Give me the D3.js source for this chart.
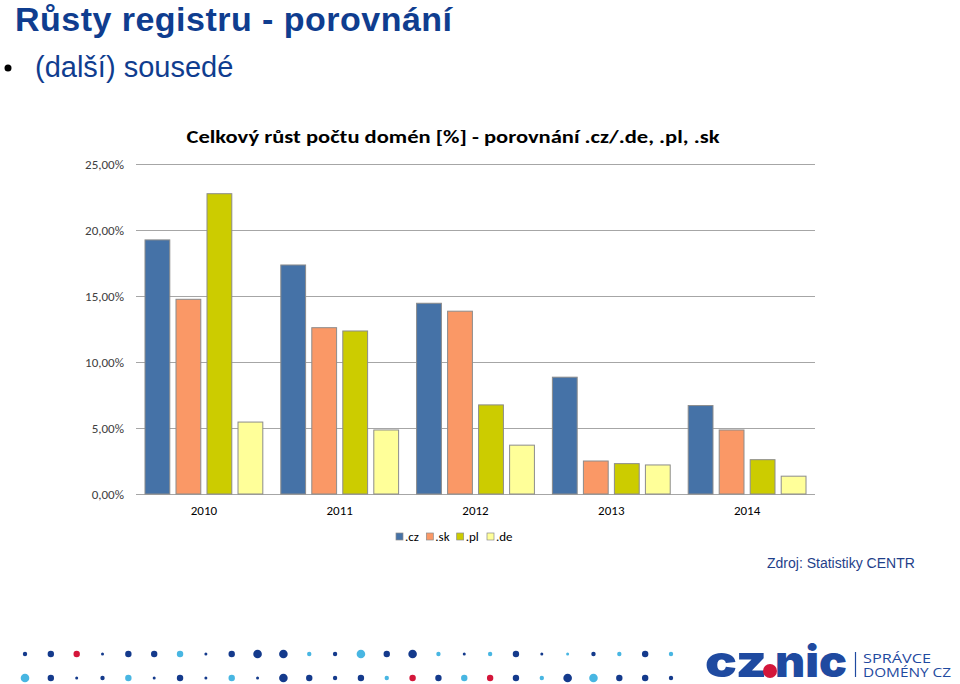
<!DOCTYPE html>
<html>
<head>
<meta charset="utf-8">
<script src="https://cdnjs.cloudflare.com/ajax/libs/d3/7.8.5/d3.min.js"></script>
<style>
    body { margin: 0; background: #fff; }
    svg { display: block; }
</style>
</head>
<body>
<svg id="slide" width="960" height="684"></svg>
<script>

// chart data (growth in %)
const years = ["2010", "2011", "2012", "2013", "2014"];
const seriesNames = [".cz", ".sk", ".pl", ".de"];
const czValues = [19.25, 17.35, 14.45, 8.85, 6.7];
const skValues = [14.75, 12.6, 13.85, 2.5, 4.85];
const plValues = [22.75, 12.35, 6.75, 2.3, 2.6];
const deValues = [5.45, 4.85, 3.7, 2.2, 1.35];
const yTicks = [0, 5, 10, 15, 20, 25];

// decorative dot rows under the slide (size+colour codes)
const dotRowTop = ["sd","md","mr","td","md","md","mc","td","md","ld","ld","sc","sd","lc","md","ld","sc","td",
                   "sc","md","td","tc","sd","sc","md","sc"];
const dotRowBottom = ["lc","md","td","sd","mc","td","md","td","mc","td","ld","md","sd","md","sc","mr","md","mc",
                      "mr","md","sc","ld","lc","md","md","sd"];

const colors = {".cz": "#4572a7", ".sk": "#fa9866", ".pl": "#cccc00", ".de": "#ffff99"};
const textBlue = "#0f3d8f";

const svg = d3.select("#slide");

// slide heading
svg.append("text")
    .attr("x", 15).attr("y", 31)
    .attr("font-family", "Liberation Sans, Arial, sans-serif")
    .attr("font-weight", "bold")
    .attr("font-size", 34)
    .attr("textLength", 437)
    .attr("fill", textBlue)
    .text("Růsty registru - porovnání");

svg.append("circle")
    .attr("cx", 8).attr("cy", 68).attr("r", 3.5)
    .attr("fill", "#000");

svg.append("text")
    .attr("x", 35).attr("y", 77)
    .attr("font-family", "Liberation Sans, Arial, sans-serif")
    .attr("font-size", 29)
    .attr("fill", textBlue)
    .text("(další) sousedé");

// chart
const plotLeft = 136, plotRight = 815, plotTop = 164, plotBottom = 494;

const x0 = d3.scaleBand().domain(years).range([plotLeft, plotRight]);
const x1 = d3.scaleBand().domain(seriesNames).range([0, x0.bandwidth()])
    .paddingInner(0.2).paddingOuter(0.29);
const y = d3.scaleLinear().domain([0, 25]).range([plotBottom, plotTop]);

const locale = d3.formatLocale({decimal: ",", thousands: " ", grouping: [3], currency: ["", " Kč"]});
const fmt = locale.format(".2f");

const chartFont = "Calibri, Carlito, Lato, sans-serif";

svg.append("text")
    .attr("x", 453).attr("y", 143)
    .attr("text-anchor", "middle")
    .attr("font-family", chartFont)
    .attr("font-weight", "bold")
    .attr("font-size", 19)
    .attr("textLength", 533)
    .attr("lengthAdjust", "spacingAndGlyphs")
    .attr("fill", "#000")
    .text("Celkový růst počtu domén [%] - porovnání .cz/.de, .pl, .sk");

const grid = svg.append("g");
grid.selectAll("line")
    .data(yTicks)
    .enter()
    .append("line")
        .attr("x1", plotLeft).attr("x2", plotRight)
        .attr("y1", d => Math.round(y(d)) + 0.5)
        .attr("y2", d => Math.round(y(d)) + 0.5)
        .attr("stroke", "#a6a6a6")
        .attr("stroke-width", 1);

grid.selectAll("text")
    .data(yTicks)
    .enter()
    .append("text")
        .attr("x", 124)
        .attr("y", d => y(d))
        .attr("dy", "0.35em")
        .attr("text-anchor", "end")
        .attr("font-family", chartFont)
        .attr("font-size", 13)
        .attr("fill", "#404040")
        .text(d => fmt(d) + "%");

// rows of the table
const rows = years.map(function (year, i) {
    return {
        year: year,
        values: [
            {key: ".cz", value: czValues[i]},
            {key: ".sk", value: skValues[i]},
            {key: ".pl", value: plValues[i]},
            {key: ".de", value: deValues[i]}
        ]
    };
});

const groups = svg.append("g")
    .selectAll("g")
    .data(rows)
    .enter()
    .append("g")
        .attr("transform", d => "translate(" + x0(d.year) + ",0)");

groups.selectAll("rect")
    .data(d => d.values)
    .enter()
    .append("rect")
        .attr("x", d => x1(d.key))
        .attr("y", d => y(d.value))
        .attr("width", x1.bandwidth())
        .attr("height", d => plotBottom - y(d.value))
        .attr("fill", d => colors[d.key])
        .attr("stroke", "#8c8c8c")
        .attr("stroke-width", 1);

svg.append("g")
    .selectAll("text")
    .data(years)
    .enter()
    .append("text")
        .attr("x", d => x0(d) + x0.bandwidth() / 2)
        .attr("y", 515)
        .attr("text-anchor", "middle")
        .attr("font-family", chartFont)
        .attr("font-size", 13)
        .attr("fill", "#000")
        .text(d => d);

// legend
const legendX = d3.scalePoint().domain(seriesNames).range([396, 487]);
const legend = svg.append("g")
    .selectAll("g")
    .data(seriesNames)
    .enter()
    .append("g")
        .attr("transform", d => "translate(" + legendX(d) + ",533)");

legend.append("rect")
    .attr("width", 7).attr("height", 7)
    .attr("fill", d => colors[d])
    .attr("stroke", "#8c8c8c")
    .attr("stroke-width", 0.7);

legend.append("text")
    .attr("x", 9).attr("y", 8)
    .attr("font-family", chartFont)
    .attr("font-size", 13)
    .attr("fill", "#000")
    .text(d => d);

// source
svg.append("text")
    .attr("x", 767).attr("y", 568)
    .attr("font-family", "Liberation Sans, Arial, sans-serif")
    .attr("font-size", 14)
    .attr("fill", "#1f3f8a")
    .text("Zdroj: Statistiky CENTR");

// dots
const dotRadius = {t: 1.5, s: 2.2, m: 3.2, l: 4.3};
const dotColor = {d: "#143a8c", c: "#48b6e2", r: "#d4163a"};
const dotX = d3.scaleLinear().domain([0, 25]).range([25, 671]);

[[dotRowTop, 654], [dotRowBottom, 678]].forEach(function (row) {
    svg.append("g")
        .selectAll("circle")
        .data(row[0])
        .enter()
        .append("circle")
            .attr("cx", (d, i) => dotX(i))
            .attr("cy", row[1])
            .attr("r", d => dotRadius[d[0]])
            .attr("fill", d => dotColor[d[1]]);
});

// cz.nic logo
const logo = svg.append("g");
const logoFont = "Inter, 'Open Sans', 'DejaVu Sans', sans-serif";
logo.append("text")
    .attr("x", 705).attr("y", 677)
    .attr("font-family", logoFont)
    .attr("font-weight", 900)
    .attr("font-size", 44)
    .attr("textLength", 62)
    .attr("lengthAdjust", "spacingAndGlyphs")
    .attr("fill", "#1f4aa0")
    .text("cz");
logo.append("circle")
    .attr("cx", 770).attr("cy", 671).attr("r", 7)
    .attr("fill", "#d4163a");
logo.append("text")
    .attr("x", 775).attr("y", 677)
    .attr("font-family", logoFont)
    .attr("font-weight", 900)
    .attr("font-size", 44)
    .attr("textLength", 72)
    .attr("lengthAdjust", "spacingAndGlyphs")
    .attr("fill", "#1f4aa0")
    .text("nic");
logo.append("line")
    .attr("x1", 855.5).attr("x2", 855.5)
    .attr("y1", 652).attr("y2", 677)
    .attr("stroke", "#1f4aa0")
    .attr("stroke-width", 1.2);
logo.append("text")
    .attr("x", 863).attr("y", 663)
    .attr("font-family", "'Open Sans', sans-serif")
    .attr("font-size", 13)
    .attr("textLength", 68)
    .attr("lengthAdjust", "spacingAndGlyphs")
    .attr("fill", "#1f4aa0")
    .text("SPRÁVCE");
logo.append("text")
    .attr("x", 863).attr("y", 677)
    .attr("font-family", "'Open Sans', sans-serif")
    .attr("font-size", 13)
    .attr("textLength", 88)
    .attr("lengthAdjust", "spacingAndGlyphs")
    .attr("fill", "#1f4aa0")
    .text("DOMÉNY CZ");

</script>
</body>
</html>
